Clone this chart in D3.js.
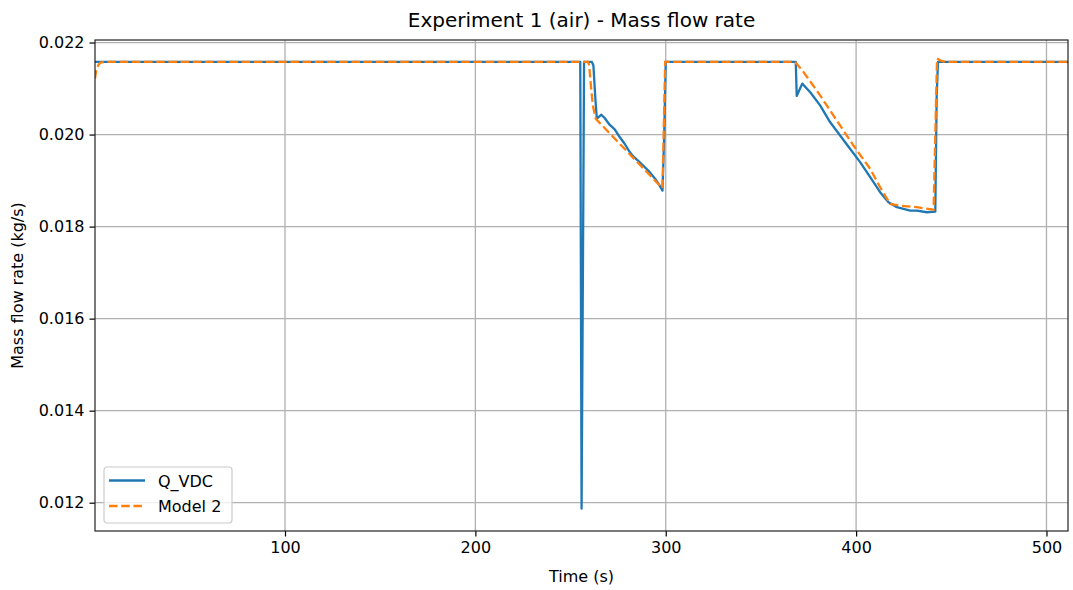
<!DOCTYPE html>
<html>
<head>
<meta charset="utf-8">
<script src="https://cdn.jsdelivr.net/npm/d3@7"></script>
<style>
  body { margin: 0; background: #fff; }
  text { font-family: "DejaVu Sans", sans-serif; fill: #000; }
</style>
</head>
<body>
<div id="chart"></div>
<script>
// data
var vdcTime = [0.2, 255.1, 255.8, 257.1, 261.2, 262.0, 263.0, 263.8, 266.2, 267.9, 270.5, 273.2, 275.8, 278.4, 281.1, 282.8, 285.4, 288.1, 291.6, 295.1, 296.8, 298.3, 299.2, 300.0,
  368.3, 368.8, 371.7, 375.8, 381.1, 386.3, 391.6, 396.8, 402.1, 407.4, 412.6, 417.0, 421.4, 428.4, 431.9, 437.2, 441.6, 442.3, 443.0, 511.3];
var vdcFlow = [0.02158, 0.02158, 0.01187, 0.02158, 0.02158, 0.02150, 0.02080, 0.020344, 0.020431, 0.020359, 0.020214, 0.020111, 0.019946, 0.019800, 0.019619, 0.019532, 0.019436, 0.019327, 0.019183, 0.019000, 0.018891, 0.018782, 0.02000, 0.02158,
  0.02158, 0.020839, 0.021107, 0.020926, 0.020634, 0.020272, 0.019980, 0.019691, 0.019401, 0.019074, 0.018747, 0.018530, 0.018421, 0.018347, 0.018347, 0.018312, 0.018325, 0.02080, 0.02158, 0.02158];

var modelTime = [0.2, 0.8, 1.8, 3.0, 5.3, 259.2, 259.8, 260.5, 261.7, 263.2, 297.7, 298.3, 299.7,
  368.0, 372.3, 381.1, 389.8, 398.6, 407.4, 412.6, 417.9, 423.2, 431.9, 440.7, 442.5, 444.2, 446.8, 511.3];
var modelFlow = [0.021216, 0.02139, 0.02150, 0.021564, 0.02158, 0.02158, 0.02150, 0.021144, 0.020634, 0.020344, 0.018857, 0.018840, 0.02158,
  0.02158, 0.021362, 0.020852, 0.020307, 0.019763, 0.019255, 0.018856, 0.018492, 0.018455, 0.018421, 0.018368, 0.021651, 0.02161, 0.02158, 0.02158];

var xTicks = [100, 200, 300, 400, 500];
var yTicks = [0.012, 0.014, 0.016, 0.018, 0.020, 0.022];

var svgWidth = 1073;
var svgHeight = 590;
var margin = { top: 40, right: 5, bottom: 59, left: 95 };
var width = svgWidth - margin.left - margin.right;
var height = svgHeight - margin.top - margin.bottom;

var svg = d3.select("#chart")
  .append("svg")
  .attr("width", svgWidth)
  .attr("height", svgHeight);

var chartGroup = svg.append("g")
  .attr("transform", `translate(${margin.left}, ${margin.top})`);

var xScale = d3.scaleLinear().domain([0.2, 511.3]).range([0, width]);
var yScale = d3.scaleLinear().domain([0.011385, 0.022055]).range([height, 0]);

// grid
chartGroup.append("g")
  .selectAll("line")
  .data(xTicks)
  .enter()
  .append("line")
  .attr("x1", d => xScale(d)).attr("x2", d => xScale(d))
  .attr("y1", 0).attr("y2", height)
  .attr("stroke", "#b0b0b0").attr("stroke-width", 1.3);

chartGroup.append("g")
  .selectAll("line")
  .data(yTicks)
  .enter()
  .append("line")
  .attr("y1", d => yScale(d)).attr("y2", d => yScale(d))
  .attr("x1", 0).attr("x2", width)
  .attr("stroke", "#b0b0b0").attr("stroke-width", 1.3);

// lines
var vdcData = vdcTime.map((t, i) => [t, vdcFlow[i]]);
var modelData = modelTime.map((t, i) => [t, modelFlow[i]]);

var line = d3.line()
  .x(d => xScale(d[0]))
  .y(d => yScale(d[1]));

chartGroup.append("clipPath").attr("id", "clip")
  .append("rect").attr("width", width).attr("height", height);

chartGroup.append("path")
  .datum(vdcData)
  .attr("clip-path", "url(#clip)")
  .attr("d", line)
  .attr("fill", "none")
  .attr("stroke", "#1f77b4")
  .attr("stroke-width", 2.3)
  .attr("stroke-linejoin", "round");

chartGroup.append("path")
  .datum(modelData)
  .attr("clip-path", "url(#clip)")
  .attr("d", line)
  .attr("fill", "none")
  .attr("stroke", "#ff7f0e")
  .attr("stroke-width", 2.3)
  .attr("stroke-dasharray", "8.5,3.7");

// axes
var bottomAxis = d3.axisBottom(xScale).tickValues(xTicks).tickSize(5.5).tickPadding(5).tickFormat(d3.format("d"));
var leftAxis = d3.axisLeft(yScale).tickValues(yTicks).tickSize(5.5).tickPadding(5).tickFormat(d3.format(".3f"));

var xAxisG = chartGroup.append("g")
  .attr("transform", `translate(0, ${height})`)
  .call(bottomAxis);
var yAxisG = chartGroup.append("g").call(leftAxis);

[xAxisG, yAxisG].forEach(function(g) {
  g.select(".domain").remove();
  g.selectAll("line").attr("stroke", "#000").attr("stroke-width", 1.2);
  g.selectAll("text").attr("font-size", "16px").attr("fill", "#222")
    .style("font-family", "DejaVu Sans, sans-serif");
});

// frame
chartGroup.append("rect")
  .attr("width", width).attr("height", height)
  .attr("fill", "none").attr("stroke", "#222").attr("stroke-width", 1.2);

// legend
var legend = chartGroup.append("g")
  .attr("transform", "translate(9, 427)");
legend.append("rect")
  .attr("width", 128).attr("height", 56).attr("rx", 3)
  .attr("fill", "#fff").attr("fill-opacity", 0.8)
  .attr("stroke", "#cccccc").attr("stroke-width", 1.2);
var legendItems = [
  { name: "Q_VDC", color: "#1f77b4", dash: null },
  { name: "Model 2", color: "#ff7f0e", dash: "8.5,3.7" }
];
legendItems.forEach(function(item, i) {
  var y = 13.5 + i * 25.5;
  legend.append("line")
    .attr("x1", 5).attr("x2", 41).attr("y1", y).attr("y2", y)
    .attr("stroke", item.color).attr("stroke-width", 2.3)
    .attr("stroke-dasharray", item.dash);
  legend.append("text")
    .attr("x", 54).attr("y", y + 6)
    .attr("font-size", "16px")
    .attr("fill", "#222")
    .text(item.name);
});

// labels
svg.append("text")
  .attr("x", margin.left + width / 2).attr("y", 27)
  .attr("text-anchor", "middle")
  .attr("font-size", "20px")
  .attr("fill", "#222")
  .text("Experiment 1 (air) - Mass flow rate");

svg.append("text")
  .attr("x", margin.left + width / 2).attr("y", 582)
  .attr("text-anchor", "middle")
  .attr("font-size", "16px")
  .attr("fill", "#222")
  .text("Time (s)");

svg.append("text")
  .attr("transform", `translate(23, ${margin.top + height / 2}) rotate(-90)`)
  .attr("text-anchor", "middle")
  .attr("font-size", "16px")
  .attr("fill", "#222")
  .text("Mass flow rate (kg/s)");
</script>
</body>
</html>
